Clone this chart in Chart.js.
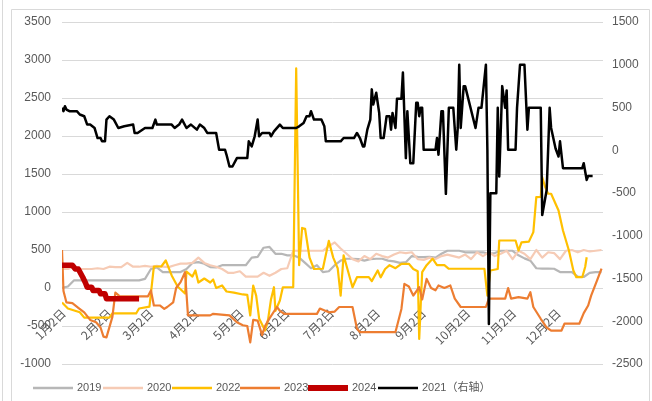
<!DOCTYPE html>
<html><head><meta charset="utf-8">
<script src="https://cdn.jsdelivr.net/npm/chart.js"></script>
<style>html,body{margin:0;padding:0;background:#fff;}</style>
</head><body>
<canvas id="c" width="652" height="401"></canvas>
<script>
// x-axis tick days (day of year) and their labels
const tickDays = [2,33,61,92,122,153,183,214,245,275,306,336];
const tickLabels = ['1月2日','2月2日','3月2日','4月2日','5月2日','6月2日','7月2日','8月2日','9月2日','10月2日','11月2日','12月2日'];

// shared sampling days for 2019 / 2020
const gridDays = [1,5,9,13,17,21,25,29,33,37,41,45,49,53,57,61,65,69,73,77,81,85,89,93,97,101,105,109,113,117,121,125,129,133,137,141,145,149,153,157,161,165,169,173,177,181,185,189,193,197,201,205,209,213,217,221,225,229,233,237,241,245,249,253,257,261,265,269,273,277,281,285,289,293,297,301,305,309,313,317,321,325,329,333,337,341,345,349,353,357,361,365];

const v2019 = [0,20,100,100,100,100,100,100,100,100,
  100,100,100,100,120,250,270,210,210,210,
  210,250,330,340,320,275,270,300,300,300,
  300,300,400,410,530,540,450,450,430,430,
  400,330,260,300,210,220,300,360,385,385,
  380,360,380,385,385,360,350,330,340,420,
  410,405,410,400,450,490,490,490,470,470,
  470,470,450,460,490,490,490,430,390,360,
  260,255,255,253,210,210,210,150,145,200,
  210,210];

const v2020 = [250,250,280,250,250,250,260,250,280,275,
  275,330,280,280,290,280,290,280,275,300,
  320,320,330,400,330,300,280,250,200,200,
  220,150,150,150,200,160,200,250,260,490,
  490,490,490,490,490,550,600,520,450,380,
  350,420,380,450,420,400,440,470,460,470,
  380,370,400,380,420,440,420,400,440,380,
  470,420,470,420,450,490,380,490,450,380,
  500,400,470,460,380,490,500,470,500,480,
  490,500];

const days2022 = [1,5,13,16,33,35,51,53,60,63,68,71,75,79,84,85,89,91,93,97,101,103,105,109,112,117,123,126,128,130,132,134,138,140,142,144,145,148,150,157,159,161,163,165,168,171,177,181,184,187,189,191,193,197,200,208,210,214,216,219,222,226,230,235,238,241,242,244,247,251,254,259,262,286,288,290,295,296,307,309,311,316,319,321,324,325,327,329,331,336,339,343,346,348,352,354,355];
const v2022 = [-190,-270,-320,-390,-390,-335,-335,-270,-245,283,283,362,165,20,-72,217,150,230,72,125,72,112,0,33,-46,-60,-85,-90,-362,33,-100,-400,-560,-420,-150,10,-300,-165,10,10,2890,300,790,780,400,250,253,620,400,260,-100,430,290,10,142,142,90,230,140,250,300,260,318,318,250,220,-670,208,300,385,300,300,253,253,-100,230,250,625,625,493,600,610,735,1195,1200,1458,1327,1240,1240,1020,757,493,230,142,142,280,405];

const days2023 = [1,2,4,8,12,16,20,24,27,29,31,35,37,40,59,61,63,67,70,72,76,78,81,84,86,101,103,114,119,123,126,128,130,133,136,138,141,146,148,151,173,175,181,185,188,197,200,202,226,230,232,235,238,242,244,247,250,253,255,259,263,266,270,287,289,300,302,304,309,315,317,319,324,328,331,338,340,350,353,356,358,362,365];
const v2023 = [500,-40,-190,-200,-260,-320,-420,-450,-520,-640,-650,-380,-60,-110,-110,-33,-230,-230,-275,-250,-190,0,77,208,-360,-360,-340,-360,-450,-490,-500,-715,-420,-430,-620,-500,-400,-250,-300,-340,-340,-270,-320,-310,-250,-250,-537,-580,-580,-275,55,20,-100,10,-150,120,0,-30,33,0,33,-140,-250,-250,-140,-140,0,-140,-120,-140,-55,-250,-405,-520,-560,-560,-470,-470,-330,-230,-100,100,255];

const days2024 = [1,8,10,12,15,17,18,21,22,26,27,30,31,53];
const v2024 = [300,300,250,250,142,60,10,10,-33,-33,-76,-76,-142,-142];

// 2021 on the right axis
const days2021 = [1,2,3,4,6,11,13,16,18,20,23,25,27,28,30,31,33,36,39,43,49,50,52,57,62,64,65,75,77,80,82,85,88,92,94,97,99,105,107,111,112,114,116,119,126,127,129,131,133,134,136,141,142,144,148,150,159,161,164,166,168,169,171,176,178,179,189,191,198,200,202,204,205,207,209,210,211,213,215,216,218,220,222,223,224,226,227,230,231,233,234,236,238,240,241,242,243,244,245,253,254,255,257,258,260,262,265,267,268,269,270,272,273,280,282,284,287,288,289,290,294,295,296,298,300,301,302,307,308,310,313,315,316,324,325,328,330,331,334,336,337,339,352,353,355,356,359];
const v2021 = [496,457,515,476,457,457,418,398,300,300,260,143,143,104,104,359,398,359,260,280,300,202,202,260,260,359,300,300,260,300,359,260,300,241,300,260,202,202,6,6,-53,-190,-190,-92,-92,104,45,163,359,163,202,202,163,220,300,260,260,280,320,398,398,457,359,359,280,104,104,143,143,202,143,45,45,241,359,712,535,673,437,143,143,398,398,241,437,260,602,602,908,-92,457,-151,-151,555,555,398,496,496,6,6,143,-53,457,457,-510,496,496,6,261,1000,261,750,750,261,496,496,1000,6,-2033,-504,-504,496,-308,750,496,700,6,6,496,1000,1000,241,496,496,-758,-464,496,261,20,-73,104,-210,-210,-151,-347,-300,-300];

const seriesNames = ['2019','2020','2022','2023','2024','2021（右轴）'];

function pts(days, vals){ return days.map((d,i)=>({x:d, y:vals[i]})); }

const colors = ['#B7B7B7','#F6CBB5','#FFC000','#ED7D31','#C00000','#000000'];
const widths = [2.2,2.2,2.2,2.2,5.5,2.5];

const datasets = [
  {label:seriesNames[0], data:pts(gridDays,v2019), yAxisID:'y', order:5},
  {label:seriesNames[1], data:pts(gridDays,v2020), yAxisID:'y', order:4},
  {label:seriesNames[2], data:pts(days2022,v2022), yAxisID:'y', order:3},
  {label:seriesNames[3], data:pts(days2023,v2023), yAxisID:'y', order:2},
  {label:seriesNames[4], data:pts(days2024,v2024), yAxisID:'y', order:1},
  {label:seriesNames[5], data:pts(days2021,v2021), yAxisID:'y1', order:0}
].map((d,i)=>Object.assign(d,{borderColor:colors[i],backgroundColor:colors[i],borderWidth:widths[i],pointRadius:0,tension:0,fill:false,borderJoinStyle:'round'}));

const framePlugin = {
  id:'frame',
  beforeDraw(chart){
    const c = chart.ctx;
    c.save();
    c.fillStyle='#fff'; c.fillRect(0,0,chart.width,chart.height);
    c.strokeStyle='#d9d9d9'; c.lineWidth=1;
    c.beginPath();
    c.moveTo(11.5,401); c.lineTo(11.5,9.5); c.lineTo(649.5,9.5); c.lineTo(649.5,401);
    c.moveTo(2.5,0); c.lineTo(2.5,401);
    c.stroke();
    c.restore();
  }
};

const legendPlugin = {
  id:'customLegend',
  afterDraw(chart){
    const c = chart.ctx;
    const lineX = [33,103,172,240,308,378];
    const y = 388;
    c.save();
    c.font = '11px "Liberation Sans", "Noto Sans CJK SC", sans-serif';
    c.textBaseline='middle'; c.textAlign='left';
    chart.data.datasets.forEach((ds,i)=>{
      c.strokeStyle = ds.borderColor;
      c.lineWidth = i===4 ? 6 : 2.5;
      c.lineCap = 'butt';
      c.beginPath(); c.moveTo(lineX[i], y); c.lineTo(lineX[i]+40, y); c.stroke();
      c.fillStyle = '#595959';
      c.fillText(ds.label, lineX[i]+44, y);
    });
    c.restore();
  }
};

new Chart(document.getElementById('c'), {
  type:'line',
  data:{datasets},
  options:{
    responsive:false, animation:false, devicePixelRatio:1,
    layout:{padding:{left:0,right:0,top:22,bottom:37}},
    plugins:{legend:{display:false}, tooltip:{enabled:false}},
    scales:{
      x:{
        type:'linear', min:1, max:366, position:{y:0},
        grid:{display:false, drawTicks:false},
        border:{display:false},
        afterBuildTicks:(s)=>{ s.ticks = tickDays.map(v=>({value:v})); },
        ticks:{
          autoSkip:false, minRotation:45, maxRotation:45, padding:18,
          color:'#595959', font:{family:'"Noto Sans CJK SC", sans-serif', size:12},
          callback:(v)=>tickLabels[tickDays.indexOf(v)]
        }
      },
      y:{
        position:'left', min:-1000, max:3500,
        afterFit:(s)=>{ s.width = 62; },
        grid:{color:'#d9d9d9', lineWidth:1, drawTicks:false},
        border:{display:false},
        ticks:{stepSize:500, padding:11, color:'#595959', font:{family:'"Liberation Sans", sans-serif', size:12},
          callback:(v)=>String(v)}
      },
      y1:{
        position:'right', min:-2500, max:1500,
        afterFit:(s)=>{ s.width = 49; },
        grid:{display:false, drawTicks:false},
        border:{display:false},
        ticks:{stepSize:500, padding:9, color:'#595959', font:{family:'"Liberation Sans", sans-serif', size:12},
          callback:(v)=>String(v)}
      }
    }
  },
  plugins:[framePlugin, legendPlugin]
});
</script>
</body></html>
